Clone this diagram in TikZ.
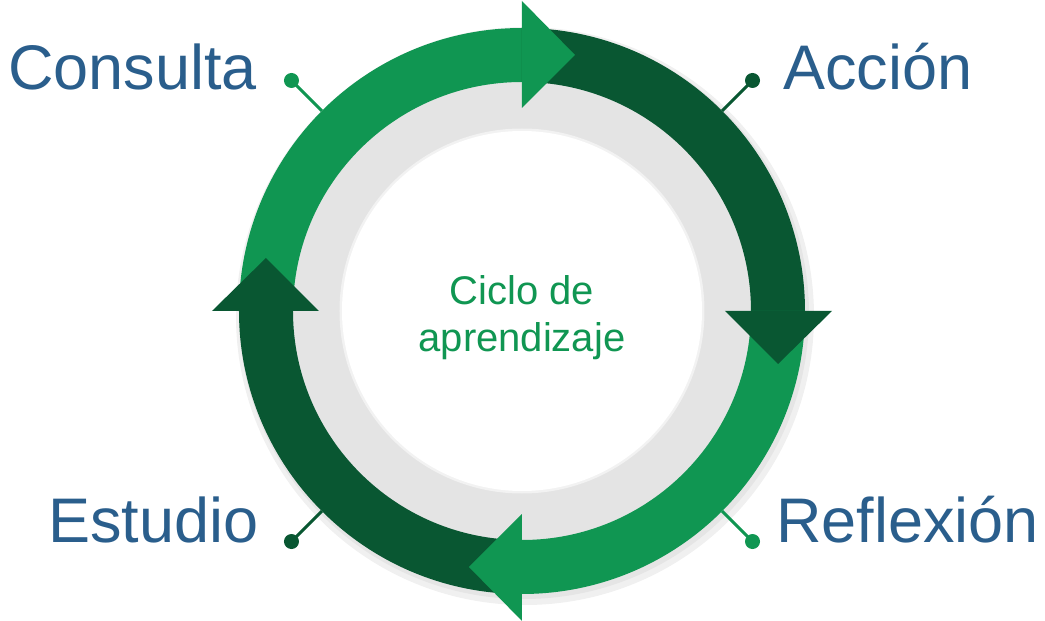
\documentclass[tikz,border=0pt]{standalone}
\usepackage{fontspec}
\setmainfont{Liberation Sans}
\usetikzlibrary{calc}
\definecolor{lightg}{RGB}{16,150,82}
\definecolor{darkg}{RGB}{9,87,50}
\definecolor{labelblue}{RGB}{42,94,140}
\definecolor{ringgray}{RGB}{228,228,228}

\begin{document}
\begin{tikzpicture}[x=1pt,y=1pt,
    lbl/.style={font=\fontsize{63}{70}\selectfont,text=labelblue,inner sep=0pt,anchor=base west},
    ctr/.style={font=\fontsize{40}{46}\selectfont,text=lightg,inner sep=0pt,anchor=base},
    dot/.style={circle,inner sep=0pt,minimum size=15pt},
    leader/.style={line width=3pt}]
        \useasboundingbox (-522,-310) rectangle (523,311);
        % soft shadow and grey ring
        \fill [black!6] (3,-5) circle (289);
        \fill [black!10] (2,-3) circle (285);
        \fill [ringgray] (0,0) circle (240);
        \fill [black!5] (0,0) circle (182.5);
        \fill [white] (0,0) circle (180);
        % arrow bodies
        \foreach \a/\c in {180/lightg, 90/darkg, 0/lightg, -90/darkg}{
            \fill [\c] (\a:283) arc [start angle=\a, end angle=\a-90, radius=283]
                -- (\a-90:229) arc [start angle=\a-90, end angle=\a, radius=229] -- cycle;
        }
        % arrow heads
        \foreach \b/\c in {90/lightg, 0/darkg, -90/lightg, 180/darkg}{
            \fill [\c] (\b:310) -- ($(\b:256)+(\b-90:53)$) -- (\b:203) -- cycle;
        }
        \node [ctr] (ciclo) at (0,6) {Ciclo de};
        \node [ctr] (aprend) at (0,-41) {aprendizaje};
        % labels
        \node [lbl] (consulta) at (-514,221) {Consulta};
        \node [lbl] (accion) at (261,221) {Acción};
        \node [lbl,anchor=base east] (reflexion) at (517,-231) {Reflexión};
        \node [lbl] (estudio) at (-474,-231) {Estudio};
        \node [dot,fill=lightg] (dconsulta) at (135:326) {};
        \node [dot,fill=darkg] (daccion) at (45:326) {};
        \node [dot,fill=lightg] (dreflexion) at (-45:326) {};
        \node [dot,fill=darkg] (destudio) at (-135:326) {};
        \coordinate (rconsulta) at (135:283);
        \coordinate (raccion) at (45:283);
        \coordinate (rreflexion) at (-45:283);
        \coordinate (restudio) at (-135:283);
        \draw [leader,lightg] (rconsulta) -- (dconsulta.center);
        \draw [leader,darkg] (raccion) -- (daccion.center);
        \draw [leader,lightg] (rreflexion) -- (dreflexion.center);
        \draw [leader,darkg] (restudio) -- (destudio.center);
\end{tikzpicture}
\end{document}
